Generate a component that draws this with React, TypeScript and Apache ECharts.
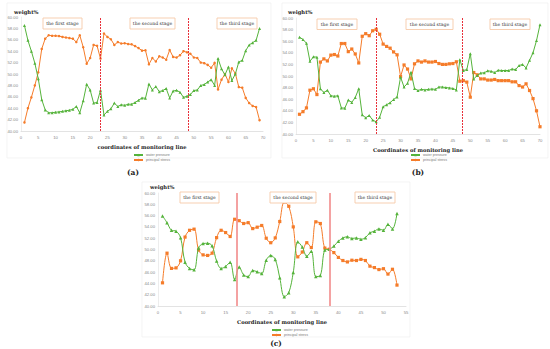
import React, { useEffect, useRef } from "react";
import * as echarts from "echarts";

// ---------- data ----------
const waterA = [58.5, 55.9, 54.0, 51.9, 49.15, 45.5, 43.7, 43.2, 43.2, 43.3, 43.35, 43.45, 43.55, 43.65, 43.8, 44.3, 43.2, 45.3, 48.2, 47.2, 44.9, 45.0, 47.15,
  42.8, 43.45, 43.9, 44.9, 44.3, 44.6, 44.5, 44.7, 44.7, 45.0, 45.4, 45.8, 45.75, 48.25, 47.2, 47.8, 46.9, 47.1, 47.45, 45.8, 47.0, 47.15, 46.8, 45.9, 46.1,
  46.4, 47.1, 47.2, 48.0, 48.15, 48.6, 49.0, 48.0, 52.7, 50.9, 49.85, 51.25, 48.85, 50.0, 52.1, 52.4, 54.1, 55.1, 55.5, 55.9, 58.0];
const stressA = [41.5, 44.0, 45.9, 48.0, 50.3, 54.4, 56.2, 56.8, 56.7, 56.7, 56.65, 56.5, 56.4, 56.3, 56.2, 55.6, 56.8, 54.7, 51.8, 52.8, 55.1, 54.95, 52.7,
  57.1, 56.5, 56.1, 55.1, 55.6, 55.35, 55.4, 55.25, 55.2, 54.9, 54.55, 54.1, 54.15, 51.7, 52.8, 52.2, 53.1, 52.9, 52.5, 54.2, 53.0, 52.9, 53.3, 54.0, 53.8,
  53.55, 52.9, 52.8, 52.0, 51.9, 51.6, 51.1, 51.95, 47.3, 49.0, 50.0, 48.6, 51.0, 50.1, 47.7, 47.6, 45.8, 44.9, 44.4, 44.2, 41.9];

const waterB = [56.7, 56.3, 55.65, 52.55, 53.3, 53.25, 47.8, 47.15, 47.55, 46.6, 46.5, 46.6, 44.5, 44.45, 45.85, 45.45, 46.3, 47.8, 43.3, 42.8, 43.2, 42.4, 42.1,
  42.9, 44.7, 45.05, 45.4, 45.95, 46.4, 49.8, 48.1, 48.75, 50.65, 47.85, 47.5, 47.7, 47.6, 47.7, 47.75, 47.7, 48.1, 48.1, 48.0, 47.95, 47.85, 47.6, 52.8,
  50.95, 51.1, 53.85, 49.5, 50.1, 50.5, 50.55, 50.9, 50.8, 50.6, 51.0, 50.95, 50.95, 50.95, 51.2, 51.1, 51.8, 52.0, 51.4, 52.7, 54.0, 56.1, 58.85];
const stressB = [43.4, 43.85, 44.5, 47.55, 47.8, 46.8, 52.4, 52.95, 52.6, 53.6, 53.7, 53.45, 55.6, 55.6, 54.2, 54.65, 53.8, 52.25, 56.85, 57.3, 56.95, 57.8, 58.05,
  57.2, 55.5, 55.1, 54.8, 54.15, 53.65, 49.9, 51.9, 51.2, 49.5, 52.1, 52.6, 52.4, 52.6, 52.4, 52.4, 52.5, 52.15, 52.0, 52.0, 52.1, 52.15, 52.45, 49.1,
  49.2, 48.95, 46.35, 50.6, 50.2, 49.5, 49.5, 49.3, 49.3, 49.4, 49.2, 49.2, 49.2, 49.2, 49.0, 49.0, 48.35, 48.1, 48.65, 47.5, 46.1, 44.0, 41.25];

const waterC = [55.95, 54.75, 53.4, 53.25, 52.1, 47.75, 46.65, 46.4, 50.25, 51.05, 51.1, 50.65, 47.95, 46.65, 47.0, 47.75, 44.7, 46.9, 45.5, 45.2, 46.3, 46.05,
  45.75, 48.1, 48.95, 48.25, 45.0, 41.65, 42.35, 45.95, 51.35, 50.45, 48.8, 49.7, 45.2, 45.4, 49.9, 50.05, 50.6, 51.45, 52.05, 52.25, 51.95, 52.05, 51.8,
  52.1, 52.95, 53.25, 53.65, 53.4, 54.45, 53.65, 56.35];
const stressC = [44.1, 49.35, 46.65, 46.75, 48.0, 52.2, 53.4, 53.6, 49.9, 49.05, 48.95, 49.35, 52.1, 53.4, 53.0, 52.3, 55.35, 55.1, 54.6, 54.75, 53.7, 53.95,
  54.25, 52.0, 51.2, 52.05, 54.95, 58.4, 57.65, 54.0, 48.7, 49.55, 51.2, 50.35, 54.9, 54.6, 50.25, 50.05, 49.45, 48.6, 48.05, 47.8, 48.1, 48.05, 48.25,
  48.05, 47.05, 46.8, 46.45, 46.6, 45.65, 46.5, 43.7];

const stageNames = ["the first stage", "the second stage", "the third stage"];
const boundariesA = [23, 48.5];
const boundariesB = [23, 47.7];
const boundariesC = [17.5, 38.1];
const xMaxA = 70;
const xMaxB = 70;
const xMaxC = 55;
const panelLabels = ["(a)", "(b)", "(c)"];
const seriesNames = ["water pressure", "principal stress"];

const GREEN = "#55b33b";
const ORANGE = "#f57c2a";

const pairs = (vals: number[]) => vals.map((v, i) => [i + 1, v]);

export default function App() {
  const ref = useRef<HTMLDivElement>(null);
  useEffect(() => {
    if (!ref.current) return;
    const chart = echarts.init(ref.current, null, { renderer: "svg" });

    const grids = [
      { left: 21, top: 17, width: 242, height: 114 },
      { left: 296, top: 18, width: 244, height: 116 },
      { left: 158, top: 193, width: 248, height: 113 },
    ];
    const xMaxes = [xMaxA, xMaxB, xMaxC];
    const axisNames = ["coordinates of monitoring line", "Coordinates of monitoring line", "Coordinates of monitoring line"];

    const xAxis = grids.map((g, i) => ({
      type: "value",
      gridIndex: i,
      min: 0,
      max: xMaxes[i],
      interval: 5,
      name: axisNames[i],
      nameLocation: "middle",
      nameGap: 13,
      nameTextStyle: { fontFamily: "DejaVu Serif", fontWeight: "bold", fontSize: 5.2, color: "#222" },
      axisLine: { show: true, lineStyle: { color: "#d0d0d0", width: 0.6 } },
      axisTick: { show: false },
      splitLine: { show: false },
      axisLabel: { fontSize: 4.2, color: "#888", margin: 4, fontFamily: "Liberation Sans" },
    }));
    const yAxis = grids.map((g, i) => ({
      type: "value",
      gridIndex: i,
      min: 40,
      max: 60,
      interval: 2,
      axisLine: { show: true, lineStyle: { color: "#e0e0e0", width: 0.6 } },
      axisTick: { show: false },
      splitLine: { show: false },
      axisLabel: {
        fontSize: 4.2,
        color: "#888",
        margin: 3,
        fontFamily: "Liberation Sans",
        formatter: (v: number) => v.toFixed(2),
      },
    }));

    const redDashed = { color: "#e8303a", width: 1, type: [2, 1] as any };
    const redSolid = { color: "#f28b8b", width: 1.6, type: "solid" };
    const bounds = [boundariesA, boundariesB, boundariesC];
    const waters = [waterA, waterB, waterC];
    const stresses = [stressA, stressB, stressC];

    const series: any[] = [];
    for (let i = 0; i < 3; i++) {
      series.push({
        name: seriesNames[0],
        type: "line",
        xAxisIndex: i,
        yAxisIndex: i,
        data: pairs(waters[i]),
        smooth: i === 2 ? 0.35 : false,
        symbol: "triangle",
        symbolSize: i === 2 ? 3.5 : 3,
        itemStyle: { color: GREEN },
        lineStyle: { color: GREEN, width: 1 },
        markLine: {
          silent: true,
          symbol: "none",
          label: { show: false },
          lineStyle: i === 2 ? redSolid : redDashed,
          data: bounds[i].map((b) => ({ xAxis: b })),
        },
        z: 3,
      });
      series.push({
        name: seriesNames[1],
        type: "line",
        xAxisIndex: i,
        yAxisIndex: i,
        data: pairs(stresses[i]),
        smooth: i === 2 ? 0.35 : false,
        symbol: i === 0 ? "circle" : "rect",
        symbolSize: i === 0 ? 2.5 : 3.2,
        itemStyle: { color: ORANGE },
        lineStyle: { color: ORANGE, width: 1 },
        z: 2,
      });
    }

    const legendCommon = {
      orient: "vertical",
      itemWidth: 9,
      itemHeight: 3,
      itemGap: 1,
      textStyle: { fontSize: 3.6, color: "#777", padding: [0, 0, 0, -2] },
      data: seriesNames,
      selectedMode: false,
    };
    const legend = [
      { ...legendCommon, left: 128, top: 148 },
      { ...legendCommon, left: 405, top: 148 },
      { ...legendCommon, left: 266, top: 323 },
    ];

    const graphic: any[] = [];
    // light frames
    const frames = [
      [7, 3, 264, 155],
      [282, 3, 266, 155],
      [142, 182, 268, 155],
    ];
    frames.forEach(([x, y, w, h]) =>
      graphic.push({ type: "rect", shape: { x, y, width: w, height: h }, style: { fill: "none", stroke: "#ececec", lineWidth: 0.6 }, silent: true, z: 0 })
    );
    // weight% labels
    const wPos = [[14, 12], [288, 12], [150, 187]];
    wPos.forEach(([x, y]) =>
      graphic.push({ type: "text", x, y, style: { text: "weight%", fontFamily: "DejaVu Serif", fontWeight: "bold", fontSize: 5.2, fill: "#222", verticalAlign: "middle" }, z: 10 })
    );
    // stage boxes
    const boxes = [
      [[43, 18, 39, 11], [130, 18, 45, 11], [217, 18, 40, 11]],
      [[317, 19, 40, 10.5], [406, 19, 47, 10.5], [490, 19, 40, 10.5]],
      [[180, 192, 39, 11], [270, 192, 46, 11], [355, 192, 40, 11]],
    ];
    boxes.forEach((row) =>
      row.forEach(([x, y, w, h], k) => {
        graphic.push({ type: "rect", shape: { x, y, width: w, height: h }, style: { fill: "#fff", stroke: "#f6c9a8", lineWidth: 0.9 }, z: 10 });
        graphic.push({
          type: "text",
          x: x + w / 2,
          y: y + h / 2,
          style: { text: stageNames[k], fontFamily: "DejaVu Serif", fontSize: 4.6, fill: "#333", align: "center", verticalAlign: "middle" },
          z: 11,
        });
      })
    );
    // panel labels
    const pPos = [[133, 172], [418, 172], [276, 343]];
    pPos.forEach(([x, y], k) =>
      graphic.push({ type: "text", x, y, style: { text: panelLabels[k], fontFamily: "DejaVu Serif", fontWeight: "bold", fontSize: 7.5, fill: "#222", align: "center", verticalAlign: "middle" }, z: 10 })
    );

    chart.setOption({
      animation: false,
      backgroundColor: "#fff",
      grid: grids,
      xAxis,
      yAxis,
      legend,
      series,
      graphic,
    });
    return () => chart.dispose();
  }, []);
  return <div ref={ref} style={{ position: "fixed", left: 0, top: 0, width: 550, height: 349 }} />;
}
